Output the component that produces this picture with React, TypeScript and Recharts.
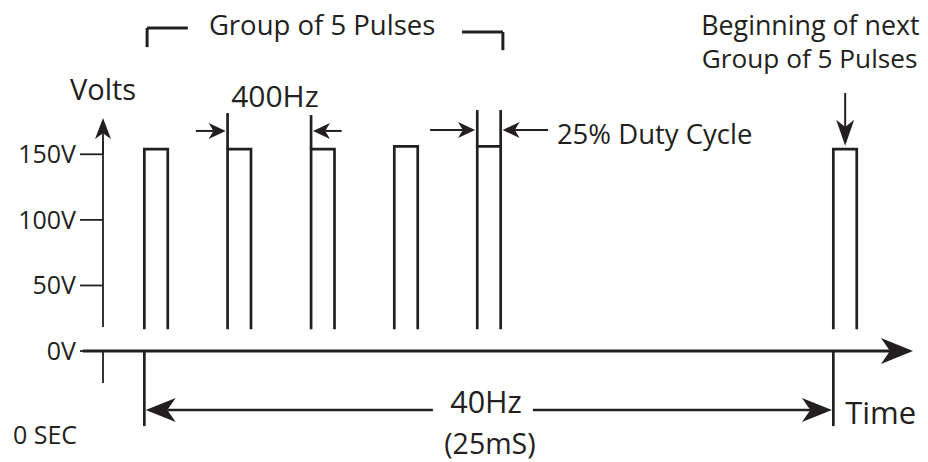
import React from 'react';
import { ComposedChart, Line, XAxis, YAxis, ReferenceLine, ReferenceDot } from 'recharts';

const INK = '#231f20';
const FONT = '"Open Sans", sans-serif';

// pulse train (time in ms, volts)
const pulseStart = [1.5, 4.52, 7.55, 10.57, 13.58, 26.5];
const pulseWidth = 0.85;
const pulseTop = [154, 154, 154, 156, 156, 154];
const pulseFoot = 16.6;
const voltTicks = [0, 50, 100, 150];

// tall marker lines on the pulse edges (400Hz / duty cycle)
const markerT = [4.52, 7.55, 13.58, 14.43];
const markerFrom = [154, 154, 156, 156];
const markerTo = [181.4, 179.9, 183.7, 183.7];

type Pt = [number, number];
type Seg = { a: Pt; b: Pt; w: number };
type Arr = { a: Pt; b: Pt; w: number; head: number; half: number };
type Txt = { t: number; v: number; text: string; size: number; anchor: 'start' | 'middle' | 'end' };

// plain strokes: axis pieces, bracket, drop lines
const segments: Seg[] = [
  { a: [0, 18.3], b: [0, 160], w: 1.8 },
  { a: [0, 0], b: [0, -24.4], w: 1.8 },
  { a: [1.5, 0], b: [1.5, -57.2], w: 2.7 },
  { a: [26.5, 0], b: [26.5, -57.2], w: 2.7 },
  { a: [1.6, 231.7], b: [1.6, 246.3], w: 3 },
  { a: [1.6, 246.3], b: [3.08, 246.3], w: 3 },
  { a: [13.03, 243.2], b: [14.51, 243.2], w: 3 },
  { a: [14.51, 243.2], b: [14.51, 229.4], w: 3 },
];

// arrows, tip at b
const arrows: Arr[] = [
  { a: [0, 150], b: [0, 177.6], w: 1.8, head: 21, half: 8 },
  { a: [-0.73, 0], b: [29.39, 0], w: 3, head: 32, half: 13 },
  { a: [11.97, -44.9], b: [1.55, -44.9], w: 2.5, head: 30, half: 12 },
  { a: [15.6, -44.9], b: [26.45, -44.9], w: 2.5, head: 30, half: 12 },
  { a: [3.37, 167.8], b: [4.45, 167.8], w: 2, head: 17, half: 8 },
  { a: [8.66, 167.8], b: [7.62, 167.8], w: 2, head: 17, half: 8 },
  { a: [11.87, 168.5], b: [13.5, 168.5], w: 2, head: 17, half: 8 },
  { a: [16.15, 168.5], b: [14.5, 168.5], w: 2, head: 17, half: 8 },
  { a: [26.93, 196.7], b: [26.93, 156.5], w: 2, head: 26, half: 9 },
];

const labels: Txt[] = [
  { t: 7.95, v: 240.9, text: 'Group of 5 Pulses', size: 27.5, anchor: 'middle' },
  { t: 0, v: 191.4, text: 'Volts', size: 29, anchor: 'middle' },
  { t: 6.24, v: 186, text: '400Hz', size: 30, anchor: 'middle' },
  { t: 16.47, v: 157.8, text: '25% Duty Cycle', size: 27.5, anchor: 'start' },
  { t: 25.67, v: 240.9, text: 'Beginning of next', size: 26.8, anchor: 'middle' },
  { t: 25.64, v: 215.8, text: 'Group of 5 Pulses', size: 26.2, anchor: 'middle' },
  { t: 13.9, v: -47.3, text: '40Hz', size: 30.5, anchor: 'middle' },
  { t: 14.04, v: -78.4, text: '(25mS)', size: 28.5, anchor: 'middle' },
  { t: 26.93, v: -55.6, text: 'Time', size: 31, anchor: 'start' },
  { t: -0.94, v: -71.1, text: '0 SEC', size: 25, anchor: 'end' },
];

const pulses = pulseStart.map((s, i) => [
  { t: s, v: pulseFoot },
  { t: s, v: pulseTop[i] },
  { t: s + pulseWidth, v: pulseTop[i] },
  { t: s + pulseWidth, v: pulseFoot },
]);

const arrowShape = (head: number, half: number, w: number) => (p: any) => {
  const { x1, y1, x2, y2 } = p;
  const dx = x2 - x1;
  const dy = y2 - y1;
  const len = Math.hypot(dx, dy) || 1;
  const ux = dx / len;
  const uy = dy / len;
  const bx = x2 - ux * head;
  const by = y2 - uy * head;
  const nx = x2 - ux * head * 0.72;
  const ny = y2 - uy * head * 0.72;
  const pts = [
    [x2, y2],
    [bx - uy * half, by + ux * half],
    [nx, ny],
    [bx + uy * half, by - ux * half],
  ]
    .map((q) => q.join(','))
    .join(' ');
  return (
    <g>
      <line x1={x1} y1={y1} x2={nx} y2={ny} stroke={INK} strokeWidth={w} />
      <polygon points={pts} fill={INK} />
    </g>
  );
};

const textShape = (l: Txt) => (p: any) => (
  <text x={p.cx} y={p.cy} textAnchor={l.anchor} fontSize={l.size} fontFamily={FONT} fill={INK}>
    {l.text}
  </text>
);

export default function App() {
  return (
    <div style={{ position: 'absolute', left: 0, top: 0, width: 928, height: 462, background: '#fff', fontFamily: FONT }}>
      <ComposedChart width={928} height={462} margin={{ top: 10, right: 12, bottom: 6, left: 0 }}>
        <XAxis type="number" dataKey="t" domain={[0, 29.5]} allowDataOverflow hide />
        <YAxis
          type="number"
          domain={[-80, 260]}
          allowDataOverflow
          ticks={voltTicks}
          interval={0}
          width={103}
          tickSize={23}
          tickMargin={4}
          axisLine={false}
          tickLine={{ stroke: INK, strokeWidth: 1.8 }}
          tick={{ fill: INK, fontSize: 25, fontFamily: FONT }}
          tickFormatter={(v: number) => `${v}V`}
        />
        {segments.map((s, i) => (
          <ReferenceLine
            key={`s${i}`}
            segment={[{ x: s.a[0], y: s.a[1] }, { x: s.b[0], y: s.b[1] }]}
            stroke={INK}
            strokeWidth={s.w}
            ifOverflow="visible"
          />
        ))}
        {markerT.map((t, i) => (
          <ReferenceLine
            key={`m${i}`}
            segment={[{ x: t, y: markerFrom[i] }, { x: t, y: markerTo[i] }]}
            stroke={INK}
            strokeWidth={2.7}
            ifOverflow="visible"
          />
        ))}
        {arrows.map((a, i) => (
          <ReferenceLine
            key={`a${i}`}
            segment={[{ x: a.a[0], y: a.a[1] }, { x: a.b[0], y: a.b[1] }]}
            ifOverflow="visible"
            shape={arrowShape(a.head, a.half, a.w)}
          />
        ))}
        {pulses.map((d, i) => (
          <Line
            key={`p${i}`}
            data={d}
            dataKey="v"
            type="linear"
            stroke={INK}
            strokeWidth={2.7}
            strokeLinejoin="miter"
            dot={false}
            activeDot={false}
            isAnimationActive={false}
          />
        ))}
        {labels.map((l, i) => (
          <ReferenceDot key={`l${i}`} x={l.t} y={l.v} r={0} ifOverflow="visible" shape={textShape(l)} />
        ))}
      </ComposedChart>
    </div>
  );
}
